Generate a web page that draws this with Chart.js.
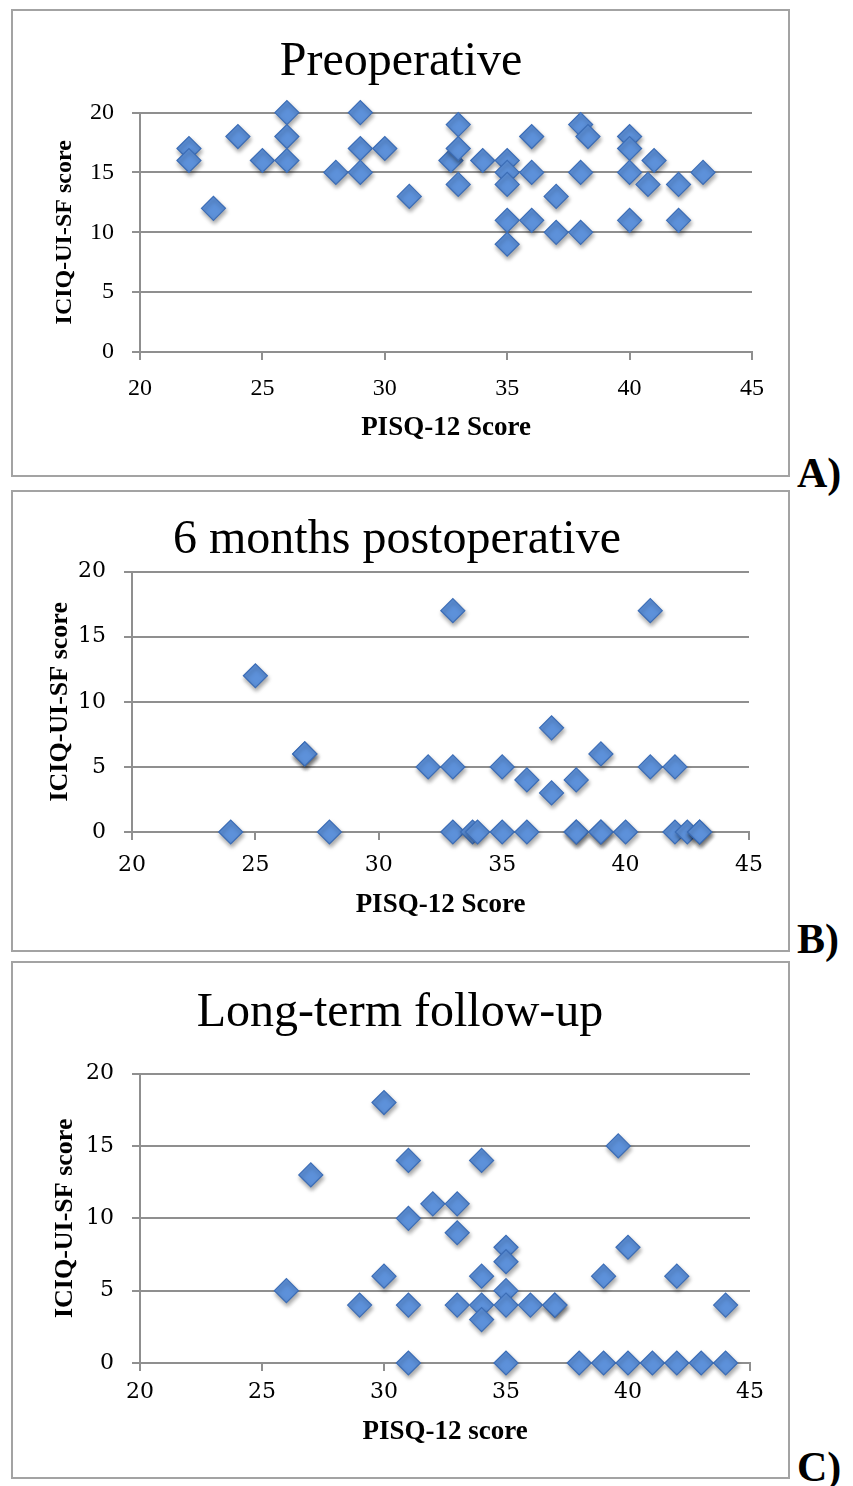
<!DOCTYPE html>
<html>
<head>
<meta charset="utf-8">
<script src="https://cdn.jsdelivr.net/npm/chart.js@4"></script>
<style>
  body { margin: 0; background: #fff; width: 853px; height: 1486px; position: relative; overflow: hidden; }
  .panel { position: absolute; left: 11px; border: 2px solid #a3a3a3; background: #fff; }
  .tag { position: absolute; left: 797px; font: bold 42px "Liberation Serif", serif; line-height: 42px; color: #000; }
</style>
</head>
<body>

<div class="panel" style="top:9px; width:775px; height:464px;"><canvas id="chartA" width="775" height="464"></canvas></div>
<div class="tag" style="top:452px;">A)</div>

<div class="panel" style="top:490px; width:775px; height:458px;"><canvas id="chartB" width="775" height="458"></canvas></div>
<div class="tag" style="top:918px;">B)</div>

<div class="panel" style="top:961px; width:775px; height:514px;"><canvas id="chartC" width="775" height="514"></canvas></div>
<div class="tag" style="top:1446px;">C)</div>

<script>
// shared axes
const xTicks = [20, 25, 30, 35, 40, 45];
const yTicks = [0, 5, 10, 15, 20];

// A) preoperative
const preScore = [22, 22, 23, 24, 25, 26, 26, 26, 28, 29, 29, 29, 30, 31,
                  32.7, 33, 33, 33, 34, 35, 35, 35, 35, 35, 36, 36, 36, 37, 37,
                  38, 38, 38.3, 38, 40, 40, 40, 40, 41, 40.75, 42, 42, 43];
const preIciq  = [17, 16, 12, 18, 16, 20, 18, 16, 15, 20, 17, 15, 17, 13,
                  16, 19, 17, 14, 16, 16, 15, 14, 11, 9, 18, 15, 11, 13, 10,
                  10, 19, 18, 15, 18, 17, 15, 11, 16, 14, 14, 11, 15];

// B) 6 months postoperative
const sixScore = [24, 25, 27, 27, 28, 32, 33, 33, 33, 33.8, 34, 35, 35, 36, 36,
                  37, 37, 38, 38, 38, 39, 39, 39, 40, 41, 41, 42, 42, 42.5, 43, 43];
const sixIciq  = [0, 12, 6, 6, 0, 5, 17, 5, 0, 0, 0, 5, 0, 4, 0,
                  8, 3, 4, 0, 0, 6, 0, 0, 0, 17, 5, 5, 0, 0, 0, 0];

// C) long-term follow-up
const longScore = [26, 27, 29, 30, 30, 31, 31, 31, 31, 32, 33, 33, 33, 34, 34, 34, 34,
                   35, 35, 35, 35, 35, 36, 37, 37, 38, 39, 39.6, 39, 40, 40, 41,
                   42, 42, 43, 44, 44];
const longIciq  = [5, 13, 4, 18, 6, 14, 10, 4, 0, 11, 11, 9, 4, 14, 6, 4, 3,
                   8, 7, 5, 4, 0, 4, 4, 4, 0, 0, 15, 6, 8, 0, 0,
                   6, 0, 0, 4, 0];

const gridGrey = '#8f8f8f';

// drop shadow under the diamonds
const shadowPlugin = {
    id: 'diamondShadow',
    beforeDatasetsDraw(chart) {
        const c = chart.ctx;
        c.save();
        c.shadowColor = 'rgba(0,0,0,0.35)';
        c.shadowBlur = 4;
        c.shadowOffsetX = 1;
        c.shadowOffsetY = 3;
    },
    afterDatasetsDraw(chart) {
        chart.ctx.restore();
    }
};

function makeChart(id, xs, ys, cfg) {
    const points = xs.map((x, i) => ({ x: x, y: ys[i] }));
    return new Chart(document.getElementById(id), {
        type: 'scatter',
        data: {
            datasets: [{
                data: points,
                clip: false,
                pointStyle: 'rectRot',
                pointRadius: 12,
                pointHoverRadius: 12,
                backgroundColor: '#5d91da',
                borderColor: '#3c6db6',
                borderWidth: 1.2
            }]
        },
        options: {
            responsive: false,
            animation: false,
            layout: { padding: cfg.padding },
            plugins: {
                legend: { display: false },
                tooltip: { enabled: false },
                title: {
                    display: true,
                    text: cfg.title,
                    color: '#000',
                    font: { family: 'Liberation Serif', size: 48, weight: 'normal', lineHeight: 1.2 },
                    padding: cfg.titlePad
                }
            },
            scales: {
                x: {
                    type: 'linear',
                    min: 20, max: 45,
                    afterBuildTicks: (s) => { s.ticks = xTicks.map(v => ({ value: v })); },
                    afterFit: (s) => { s.height = cfg.xHeight; },
                    grid: { drawOnChartArea: false, drawTicks: true, tickLength: 8, color: gridGrey, lineWidth: 2 },
                    border: { display: true, color: gridGrey, width: 2 },
                    ticks: { color: '#000', padding: cfg.xTickPad, font: { family: cfg.tickFont, size: cfg.tickSize } },
                    title: {
                        display: true, text: cfg.xTitle, color: '#000', padding: 0,
                        font: { family: 'Liberation Serif', size: 27, weight: 'bold', lineHeight: 1.2 }
                    }
                },
                y: {
                    type: 'linear',
                    min: 0, max: 20,
                    afterBuildTicks: (s) => { s.ticks = yTicks.map(v => ({ value: v })); },
                    afterFit: (s) => { s.width = cfg.yWidth; },
                    grid: { drawTicks: true, tickLength: 8, color: gridGrey, lineWidth: 2 },
                    border: { display: true, color: gridGrey, width: 2 },
                    ticks: { color: '#000', padding: 18, font: { family: cfg.tickFont, size: cfg.tickSize } },
                    title: {
                        display: true, text: 'ICIQ-UI-SF score', color: '#000', padding: 0,
                        font: { family: 'Liberation Serif', size: cfg.yTitleSize, weight: 'bold', lineHeight: 1.2 }
                    }
                }
            }
        },
        plugins: [shadowPlugin]
    });
}

makeChart('chartA', preScore, preIciq, {
    title: 'Preoperative',
    titlePad: { top: 23, bottom: 21 },
    padding: { left: 37, right: 36, top: 0, bottom: 31 },
    yWidth: 90, xHeight: 92,
    xTickPad: 14, tickFont: 'Liberation Serif', tickSize: 24,
    xTitle: 'PISQ-12 Score', yTitleSize: 24
});

makeChart('chartB', sixScore, sixIciq, {
    title: '6 months postoperative',
    titlePad: { top: 20, bottom: 2 },
    padding: { left: 32, right: 39, top: 0, bottom: 29 },
    yWidth: 87, xHeight: 89,
    xTickPad: 12, tickFont: 'DejaVu Serif', tickSize: 22,
    xTitle: 'PISQ-12 Score', yTitleSize: 26
});

makeChart('chartC', longScore, longIciq, {
    title: 'Long-term follow-up',
    titlePad: { top: 22, bottom: 31 },
    padding: { left: 37, right: 38, top: 0, bottom: 29 },
    yWidth: 90, xHeight: 85,
    xTickPad: 8, tickFont: 'DejaVu Serif', tickSize: 22,
    xTitle: 'PISQ-12 score', yTitleSize: 26
});
</script>
</body>
</html>
